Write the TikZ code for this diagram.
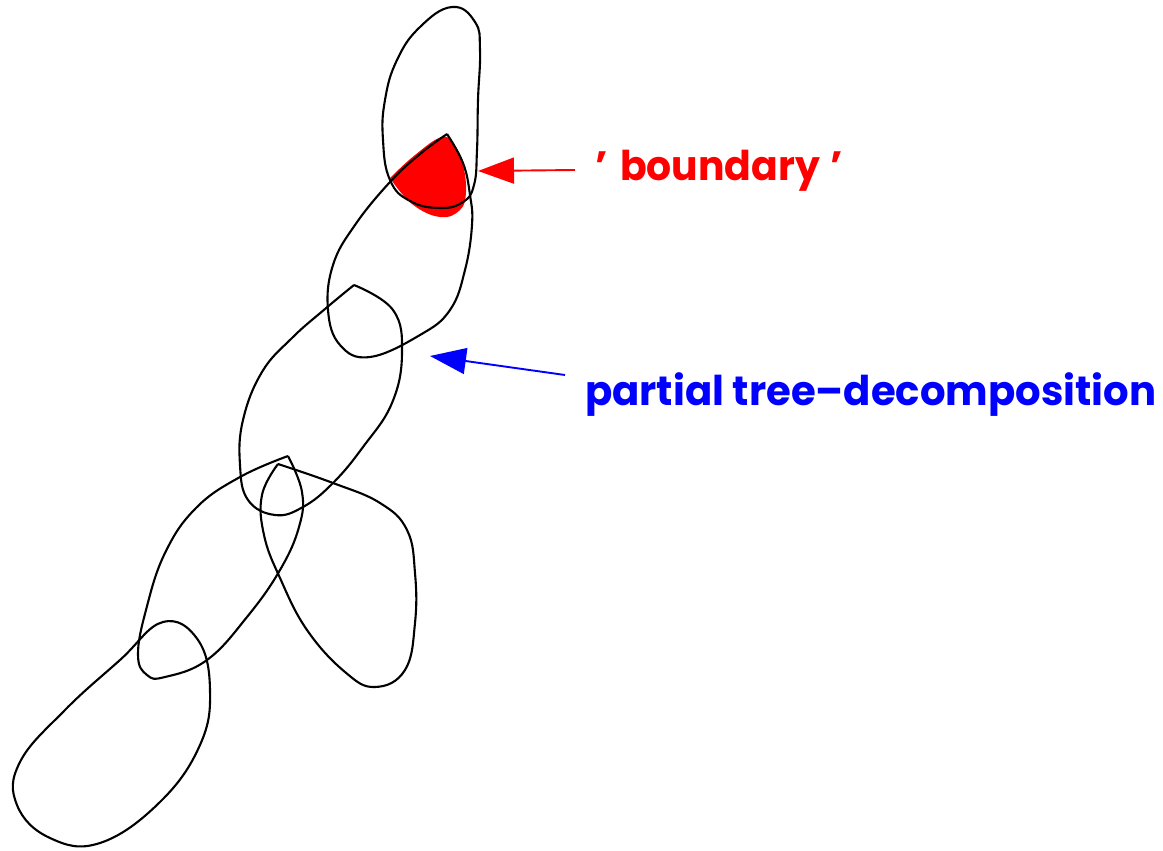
\documentclass[tikz,border=0pt]{standalone}
\usepackage{fontspec}
\setmainfont{Poppins}
\usetikzlibrary{arrows.meta}
\begin{document}
\begin{tikzpicture}[x=1pt,y=-1pt,
  blob/.style={draw=black,line width=2.1pt,line join=round},
  lbl/.style={font=\fontsize{41}{45}\selectfont\bfseries,anchor=base west,inner sep=0pt},
  ptr/.style={line width=1.9pt,-{Triangle[length=36pt,width=26pt]}}]
\useasboundingbox (0,0) rectangle (1163,851);
% red boundary region
\fill[red] plot[smooth,tension=0.7] coordinates {(390,178) (415,155) (442,137) (455,146) (463,165) (466,192) (460,210) (440,217) (412,204) (390,178)};
% blob A (top)
\draw[blob] plot[smooth cycle,tension=0.75] coordinates {(452,7) (420,27) (397,60) (385,100) (383,140) (390,180) (410,201) (440,208) (463,202) (474,185) (477,150) (478,100) (480,50) (475,22)};
% blob B
\draw[blob] plot[smooth,tension=0.7] coordinates {(447,134) (463,163) (470,195) (472,225) (465,270) (450,310) (420,335) (370,357) (340,345) (328,310) (333,265) (355,225) (390,182) (420,154) (447,134)};
% blob C
\draw[blob] plot[smooth,tension=0.7] coordinates {(354,285) (393,310) (402,353) (392,403) (363,447) (333,483) (303,507) (275,515) (248,500) (240,465) (243,420) (262,372) (292,338) (325,309) (354,285)};
% blob D
\draw[blob] plot[smooth,tension=0.7] coordinates {(288,456) (240,477) (196,508) (165,553) (146,610) (138,655) (147,675) (165,677) (207,660) (247,617) (280,570) (299,527) (302,492) (288,456)};
% blob E
\draw[blob] plot[smooth,tension=0.7] coordinates {(278,464) (333,483) (380,503) (407,530) (415,573) (415,623) (405,670) (375,687) (345,672) (307,630) (280,578) (264,535) (262,495) (278,464)};
% blob F (bottom)
\draw[blob] plot[smooth cycle,tension=0.7] coordinates {(163,622) (198,640) (210,690) (200,745) (160,802) (100,843) (50,838) (17,805) (20,762) (65,710) (120,660)};
% labels
\node[lbl,text=red] (bnd) at (595,180) {\scalebox{0.96}[1]{’\hspace{13pt}boundary\hspace{11pt}’}};
\node[lbl,text=blue] (ptd) at (585,405) {\scalebox{0.98}[1]{partial tree–decomposition}};
\coordinate (bndtip) at (478,171);
\coordinate (bndtail) at (575,170);
\coordinate (ptdtip) at (430,356);
\coordinate (ptdtail) at (565,375);
\draw[ptr,red] (bndtail) -- (bndtip);
\draw[ptr,blue] (ptdtail) -- (ptdtip);
\end{tikzpicture}
\end{document}
